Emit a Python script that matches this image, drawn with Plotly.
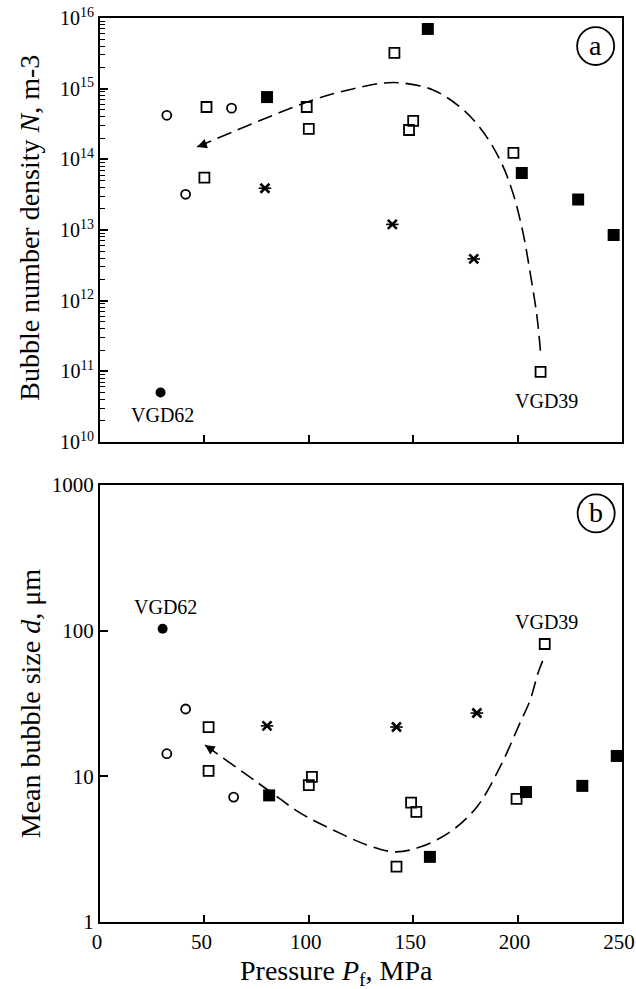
import plotly.graph_objects as go

# ---------------- data: panel (a) bubble number density N (m-3) ----------------
a_open_circle_P = [32, 41, 63]
a_open_circle_N = [4.2e14, 3.2e13, 5.3e14]
a_open_square_P = [51, 50, 99, 100, 141, 150, 148, 198, 211]
a_open_square_N = [5.5e14, 5.5e13, 5.5e14, 2.7e14, 3.2e15, 3.5e14, 2.6e14, 1.23e14, 9.8e10]
a_filled_square_P = [80, 157, 202, 229, 246]
a_filled_square_N = [7.6e14, 7.0e15, 6.4e13, 2.7e13, 8.5e12]
a_filled_circle_P = [29]
a_filled_circle_N = [5.0e10]
a_star_P = [79, 140, 179]
a_star_N = [3.9e13, 1.2e13, 3.9e12]
a_trend_P = [46.5, 102, 121, 135.5, 145, 159.5, 172.4, 182, 191.6, 197.8, 202.6, 206, 209.3, 211.2]
a_trend_N = [1.5e14, 6.9e14, 9.9e14, 1.2e15, 1.2e15, 9.6e14, 5.5e14, 2.8e14, 9.8e13,
             3.3e13, 9.1e12, 2.5e12, 5.9e11, 1.55e11]

# ---------------- data: panel (b) mean bubble size d (um) ----------------
b_filled_circle_P = [30]
b_filled_circle_d = [103]
b_open_circle_P = [41, 32, 64]
b_open_circle_d = [29, 14.3, 7.2]
b_open_square_P = [52, 52, 101.5, 100, 149, 151.5, 142, 199.5, 213]
b_open_square_d = [21.8, 10.9, 9.9, 8.7, 6.6, 5.7, 2.4, 7.0, 81]
b_filled_square_P = [81, 158, 204, 231, 247.5]
b_filled_square_d = [7.4, 2.8, 7.8, 8.6, 13.8]
b_star_P = [80, 142, 180.5]
b_star_d = [22.2, 21.8, 27.2]
b_trend_P = [50.3, 81.4, 95.8, 111.6, 127.9, 141.3, 153.3, 167.6, 180.5, 191.6, 201.1, 206, 209.8, 212.2]
b_trend_d = [16.4, 7.87, 5.61, 4.29, 3.38, 3.03, 3.27, 4.15, 6.17, 11.6, 23.2, 33.4, 51.3, 63.1]

a_decades = list(range(10, 17))
a_tick_vals = [10.0 ** e for e in a_decades]
a_tick_text = ["10<sup>%d</sup>" % e for e in a_decades]
a_minor_vals = [k * 10.0 ** e for e in a_decades[:-1] for k in range(2, 10)]
b_tick_vals = [1, 10, 100, 1000]
b_tick_text = ["1", "10", "100", "1000"]
x_tick_vals = [0, 50, 100, 150, 200, 250]

FONT = "Liberation Serif"
fig = go.Figure()


def add_panel(xa, ya, oc, os_, fs, fc, st, tr):
    kw = dict(xaxis=xa, yaxis=ya, mode="markers", showlegend=False, hoverinfo="skip")
    fig.add_trace(go.Scatter(x=tr[0], y=tr[1], mode="lines", xaxis=xa, yaxis=ya,
                             line=dict(color="black", width=1.6, dash="15px,7px", shape="spline"),
                             showlegend=False, hoverinfo="skip"))
    fig.add_trace(go.Scatter(x=oc[0], y=oc[1], marker=dict(symbol="circle-open", size=9,
                             color="black", line=dict(width=1.8)), **kw))
    fig.add_trace(go.Scatter(x=os_[0], y=os_[1], marker=dict(symbol="square-open", size=10,
                             color="black", line=dict(width=1.8)), **kw))
    fig.add_trace(go.Scatter(x=fs[0], y=fs[1], marker=dict(symbol="square", size=12,
                             color="black", line=dict(width=0)), **kw))
    fig.add_trace(go.Scatter(x=fc[0], y=fc[1], marker=dict(symbol="circle", size=10,
                             color="black", line=dict(width=0)), **kw))
    fig.add_trace(go.Scatter(x=st[0], y=st[1], marker=dict(symbol="x-thin-open", size=9,
                             color="black", line=dict(width=2.6, color="black")), **kw))
    fig.add_trace(go.Scatter(x=st[0], y=st[1], marker=dict(symbol="line-ew-open", size=9,
                             color="black", line=dict(width=1.6, color="black")), **kw))


add_panel("x", "y",
          (a_open_circle_P, a_open_circle_N), (a_open_square_P, a_open_square_N),
          (a_filled_square_P, a_filled_square_N), (a_filled_circle_P, a_filled_circle_N),
          (a_star_P, a_star_N), (a_trend_P, a_trend_N))
add_panel("x2", "y2",
          (b_open_circle_P, b_open_circle_d), (b_open_square_P, b_open_square_d),
          (b_filled_square_P, b_filled_square_d), (b_filled_circle_P, b_filled_circle_d),
          (b_star_P, b_star_d), (b_trend_P, b_trend_d))

axis_common = dict(showgrid=False, zeroline=False, showline=True, linecolor="black",
                   linewidth=2, mirror=True, ticks="inside", tickcolor="black",
                   tickwidth=1.5, tickfont=dict(family=FONT, size=21, color="black"),
                   ticklabeloverflow="allow", automargin=False)

fig.update_layout(
    width=636, height=989,
    margin=dict(l=100, r=14, t=18, b=67, autoexpand=False),
    paper_bgcolor="white", plot_bgcolor="white",
    font=dict(family=FONT, color="black"),
    xaxis=dict(axis_common, domain=[0, 1], range=[0, 250], anchor="y",
               tickvals=x_tick_vals, showticklabels=False, ticklen=7),
    yaxis=dict(axis_common, domain=[0.531, 1], type="log", range=[10, 16], anchor="x",
               tickvals=a_tick_vals, ticktext=a_tick_text, ticklen=8,
               tickfont=dict(family=FONT, size=20, color="black"),
               minor=dict(ticks="inside", ticklen=5, tickwidth=1.2, tickcolor="black",
                          tickvals=a_minor_vals, showgrid=False)),
    xaxis2=dict(axis_common, domain=[0, 1], range=[0, 250], anchor="y2",
                tickvals=x_tick_vals, ticklen=7, ticklabelshift=-3),
    yaxis2=dict(axis_common, domain=[0, 0.4834], type="log", range=[0, 3], anchor="x2",
                tickvals=b_tick_vals, ticktext=b_tick_text, ticklen=8),
)

ann_font = dict(family=FONT, size=20, color="black")
title_font = dict(family=FONT, size=28, color="black")
C = dict(xanchor="center", yanchor="middle", showarrow=False)
annotations = [
    dict(C, text="VGD62", x=30, y=10.385, xref="x", yref="y", font=ann_font),
    dict(C, text="VGD39", x=214, y=10.583, xref="x", yref="y", font=ann_font),
    dict(C, text="VGD62", x=31.2, y=2.163, xref="x2", yref="y2", font=ann_font),
    dict(C, text="VGD39", x=213.6, y=2.06, xref="x2", yref="y2", font=ann_font),
    # arrow heads of the trend curves
    dict(text="", x=46.5, y=14.175, xref="x", yref="y", showarrow=True, arrowhead=2,
         arrowsize=1.3, arrowwidth=1.5, arrowcolor="black", ax=11, ay=-4),
    dict(text="", x=50.3, y=1.215, xref="x2", yref="y2", showarrow=True, arrowhead=2,
         arrowsize=1.3, arrowwidth=1.5, arrowcolor="black", ax=10, ay=7),
    # panel letters
    dict(C, text="a", x=0.9495, y=0.9695, xref="paper", yref="paper",
         font=dict(family=FONT, size=28, color="black")),
    dict(C, text="b", x=0.9505, y=0.4525, xref="paper", yref="paper",
         font=dict(family=FONT, size=28, color="black")),
    # axis titles
    dict(C, text="Bubble number density <i>N</i>, m-3", x=-0.134, y=0.768, xref="paper",
         yref="paper", textangle=-90, font=title_font),
    dict(C, text="Mean bubble size <i>d</i>, μm", x=-0.134, y=0.242, xref="paper",
         yref="paper", textangle=-90, font=title_font),
    dict(C, text="Pressure <i>P</i><sub>f</sub>, MPa", x=0.454, y=-0.056, xref="paper",
         yref="paper", font=title_font),
]
fig.update_layout(annotations=annotations)

fig.update_layout(shapes=[
    dict(type="circle", xref="paper", yref="paper", x0=0.914, x1=0.985, y0=0.948, y1=0.990,
         line=dict(color="black", width=1.8)),
    dict(type="circle", xref="paper", yref="paper", x0=0.915, x1=0.986, y0=0.431, y1=0.473,
         line=dict(color="black", width=1.8)),
])

# remove the browser's default 8px page margin so the 636x989 figure fills the window
fig.write_html("out.html", config={"displayModeBar": False},
               post_script="document.body.style.margin='0';document.body.style.overflow='hidden';")
